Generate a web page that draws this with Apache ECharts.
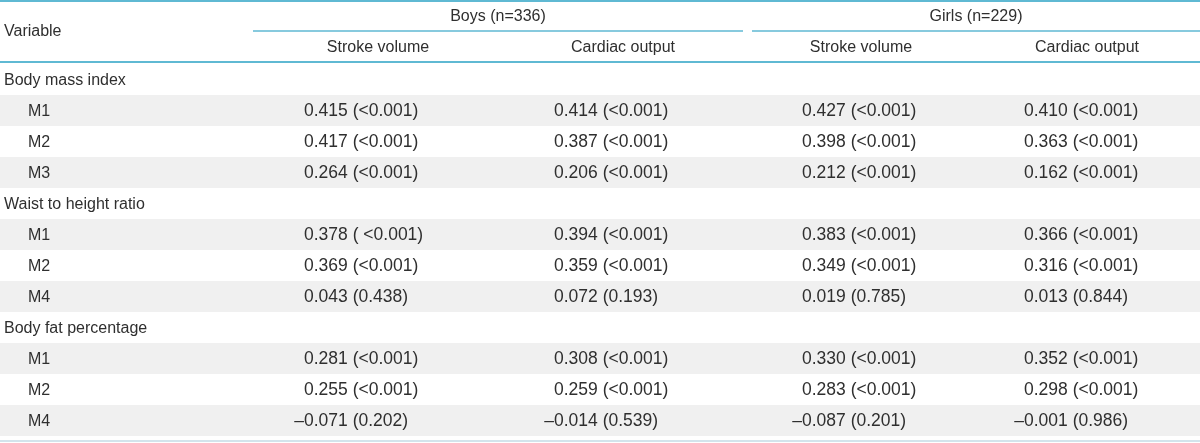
<!DOCTYPE html>
<html>
<head>
<meta charset="utf-8">
<script src="https://cdn.jsdelivr.net/npm/echarts@6/dist/echarts.min.js"></script>
<style>
html,body{margin:0;padding:0;background:#fff;}
#chart{width:1200px;height:443px;}
</style>
</head>
<body>
<div id="chart"></div>
<script>
// ---- data ----
const rowLabels = ['Body mass index','M1','M2','M3','Waist to height ratio','M1','M2','M4','Body fat percentage','M1','M2','M4'];
const rowIsGroup = [true,false,false,false,true,false,false,false,true,false,false,false];
const groupHeaders = ['Boys (n=336)','Girls (n=229)'];
const columnHeaders = ['Stroke volume','Cardiac output','Stroke volume','Cardiac output'];

const boysStrokeR   = [null,0.415,0.417,0.264,null,0.378,0.369,0.043,null,0.281,0.255,-0.071];
const boysStrokeP   = [null,'<0.001','<0.001','<0.001',null,' <0.001','<0.001','0.438',null,'<0.001','<0.001','0.202'];
const boysCardiacR  = [null,0.414,0.387,0.206,null,0.394,0.359,0.072,null,0.308,0.259,-0.014];
const boysCardiacP  = [null,'<0.001','<0.001','<0.001',null,'<0.001','<0.001','0.193',null,'<0.001','<0.001','0.539'];
const girlsStrokeR  = [null,0.427,0.398,0.212,null,0.383,0.349,0.019,null,0.330,0.283,-0.087];
const girlsStrokeP  = [null,'<0.001','<0.001','<0.001',null,'<0.001','<0.001','0.785',null,'<0.001','<0.001','0.201'];
const girlsCardiacR = [null,0.410,0.363,0.162,null,0.366,0.316,0.013,null,0.352,0.298,-0.001];
const girlsCardiacP = [null,'<0.001','<0.001','<0.001',null,'<0.001','<0.001','0.844',null,'<0.001','<0.001','0.986'];

// ---- layout (not data) ----
const colLeft = [304, 554, 802, 1024];
const colCenter = [378, 623, 861, 1087];
const groupCenter = [498, 976];
const groupLine = [[253, 743], [752, 1200]];
const FONT = '"Liberation Sans", Arial, sans-serif';
const TXT = '#2f2f2f';
const TEAL = '#5fb9d3';

const columns = [[boysStrokeR,boysStrokeP],[boysCardiacR,boysCardiacP],[girlsStrokeR,girlsStrokeP],[girlsCardiacR,girlsCardiacP]];
const cells = [];
columns.forEach(function(c, ci){
  c[0].forEach(function(r, ri){
    if (r === null) return;
    cells.push({col: ci, row: ri, r: r, p: c[1][ri]});
  });
});

const chart = echarts.init(document.getElementById('chart'), null, {renderer:'canvas'});

const graphics = [
  {type:'line', shape:{x1:0,y1:1,x2:1200,y2:1}, style:{stroke:TEAL, lineWidth:2}},
  {type:'line', shape:{x1:0,y1:62,x2:1200,y2:62}, style:{stroke:TEAL, lineWidth:2}},
  {type:'line', shape:{x1:0,y1:441,x2:1200,y2:441}, style:{stroke:'#d3e4ec', lineWidth:2}},
  {type:'text', style:{text:'Variable', x:4, y:32, fill:TXT, font:'16px '+FONT, align:'left', verticalAlign:'middle'}}
];
groupHeaders.forEach(function(h, i){
  graphics.push({type:'text', style:{text:h, x:groupCenter[i], y:17, fill:TXT, font:'16px '+FONT, align:'center', verticalAlign:'middle'}});
  graphics.push({type:'line', shape:{x1:groupLine[i][0],y1:31,x2:groupLine[i][1],y2:31}, style:{stroke:TEAL, lineWidth:1.5}});
});
columnHeaders.forEach(function(h, i){
  graphics.push({type:'text', style:{text:h, x:colCenter[i], y:48, fill:TXT, font:'16px '+FONT, align:'center', verticalAlign:'middle'}});
});

chart.setOption({
  animation:false,
  grid:{left:0, right:0, top:64, height:372, containLabel:false},
  xAxis:{type:'value', min:0, max:1200, show:false},
  yAxis:{
    type:'category', inverse:true, data:rowLabels,
    axisLine:{show:false}, axisTick:{show:false}, splitLine:{show:false},
    splitArea:{show:true, interval:0, areaStyle:{color:['rgba(255,255,255,0)','#f0f0f0']}},
    axisLabel:{
      show:true, inside:true, interval:0, margin:4, color:TXT, fontSize:16, fontFamily:FONT,
      formatter:function(v, idx){ return rowIsGroup[idx] ? '{g|'+v+'}' : '{s|'+v+'}'; },
      rich:{
        g:{fontSize:16, fontFamily:FONT, color:TXT, padding:[3,0,0,0]},
        s:{fontSize:16, fontFamily:FONT, color:TXT, padding:[3,0,0,24]}
      }
    }
  },
  graphic:graphics,
  series:[{
    type:'custom',
    clip:false,
    encode:{x:0, y:1},
    data:cells.map(function(c){ return [c.col, c.row, c.r]; }),
    renderItem:function(params, api){
      const c = cells[params.dataIndex];
      const pt = api.coord([colLeft[c.col], c.row]);
      const body = Math.abs(c.r).toFixed(3) + ' (' + c.p + ')';
      const children = [{type:'text', style:{text:body, x:pt[0], y:pt[1]+1, fill:TXT, font:'17.5px '+FONT, align:'left', verticalAlign:'middle'}}];
      if (c.r < 0) {
        children.push({type:'text', style:{text:'\u2013', x:pt[0], y:pt[1]+1, fill:TXT, font:'17.5px '+FONT, align:'right', verticalAlign:'middle'}});
      }
      return {type:'group', children:children};
    }
  }]
});
</script>
</body>
</html>
